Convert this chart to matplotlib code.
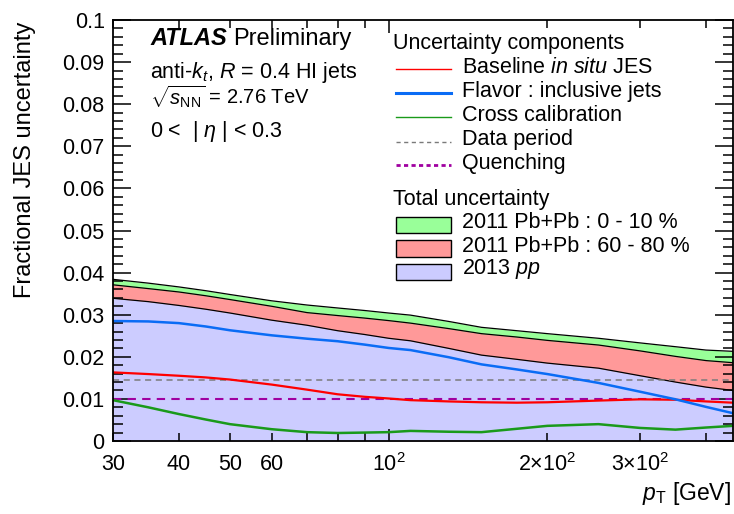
import matplotlib
matplotlib.use("Agg")
import matplotlib.pyplot as plt
from matplotlib.lines import Line2D
from matplotlib.patches import Rectangle
from matplotlib.ticker import FixedLocator, FuncFormatter, MultipleLocator

plt.rcParams['font.family'] = ['Liberation Sans', 'DejaVu Sans']
plt.rcParams['mathtext.fontset'] = 'custom'
plt.rcParams['mathtext.rm'] = 'Liberation Sans'
plt.rcParams['mathtext.it'] = 'Liberation Sans:italic'
plt.rcParams['mathtext.bf'] = 'Liberation Sans:bold'

# Jet pT points [GeV]
pt = [30, 35, 40, 45, 50, 60, 70, 80, 90, 100, 110, 130, 150, 175, 200, 250,
      300, 350, 400, 450]

# Total uncertainties
pbpb_0_10 = [0.0384, 0.0375, 0.0366, 0.0357, 0.0348, 0.0333, 0.0323, 0.0316,
             0.0310, 0.0304, 0.0299, 0.0284, 0.0270, 0.0262, 0.0255, 0.0244,
             0.0233, 0.0224, 0.0216, 0.0213]
pbpb_60_80 = [0.0371, 0.0362, 0.0354, 0.0345, 0.0336, 0.0320, 0.0305, 0.0298,
              0.0292, 0.0286, 0.0280, 0.0267, 0.0255, 0.0247, 0.0239, 0.0228,
              0.0214, 0.0201, 0.0191, 0.0186]
pp_2013 = [0.0339, 0.0331, 0.0322, 0.0313, 0.0304, 0.0287, 0.0275, 0.0262,
           0.0253, 0.0244, 0.0238, 0.0220, 0.0204, 0.0194, 0.0185, 0.0173,
           0.0155, 0.0140, 0.0128, 0.0120]

# Individual components
flavor = [0.0285, 0.0284, 0.0280, 0.0272, 0.0263, 0.0251, 0.0243, 0.0237,
          0.0229, 0.0221, 0.0216, 0.0199, 0.0182, 0.0170, 0.0159, 0.0138,
          0.0117, 0.0099, 0.0081, 0.0066]
baseline = [0.0163, 0.0159, 0.0155, 0.0151, 0.0146, 0.0134, 0.0122, 0.0111,
            0.0105, 0.0101, 0.0097, 0.0094, 0.0092, 0.0091, 0.0092, 0.0096,
            0.0099, 0.0098, 0.0094, 0.0091]
cross_calib = [0.0097, 0.0080, 0.0064, 0.0051, 0.0040, 0.0028, 0.0021, 0.0019,
               0.0020, 0.0021, 0.0024, 0.0022, 0.0021, 0.0029, 0.0036, 0.0040,
               0.0031, 0.0027, 0.0032, 0.0036]
data_period = 0.0145
quenching = 0.0100

x_min, x_max = 30, 450
y_min, y_max = 0.0, 0.1

x_tick_labels = {30: "30", 40: "40", 50: "50", 60: "60",
                 200: r"$2{\times}10^{2}$", 300: r"$3{\times}10^{2}$"}

c_green_fill = "#99ff99"
c_red_fill = "#ff9999"
c_blue_fill = "#ccccff"
c_red = "#ff0000"
c_blue = "#0a6cf5"
c_green = "#1a9a1a"
c_gray = "#7a7a7a"
c_mag = "#a000a0"

W, H = 734, 514
fig = plt.figure(figsize=(W / 100, H / 100), dpi=100)
ax = fig.add_axes([113 / W, 73 / H, 620 / W, 421 / H])
ax.set_xscale("log")
ax.set_xlim(x_min, x_max)
ax.set_ylim(y_min, y_max)

# Stacked total-uncertainty bands
ax.fill_between(pt, 0, pbpb_0_10, color=c_green_fill, lw=0, zorder=1)
ax.fill_between(pt, 0, pbpb_60_80, color=c_red_fill, lw=0, zorder=1.1)
ax.fill_between(pt, 0, pp_2013, color=c_blue_fill, lw=0, zorder=1.2)
for band in (pbpb_0_10, pbpb_60_80, pp_2013):
    ax.plot(pt, band, color="black", lw=0.9, zorder=2)

# Components
ax.axhline(data_period, color=c_gray, lw=1.1, ls=(0, (4, 3)), zorder=3)
ax.axhline(quenching, color=c_mag, lw=1.5, ls=(0, (4, 3)), zorder=3)
ax.plot(pt, baseline, color=c_red, lw=1.6, zorder=4)
ax.plot(pt, flavor, color=c_blue, lw=1.8, zorder=4)
ax.plot(pt, cross_calib, color=c_green, lw=1.8, zorder=4)

# Axes styling
for s in ax.spines.values():
    s.set_linewidth(1.3)
    s.set_zorder(10)


def y_label(v, pos):
    if abs(v) < 1e-9:
        return "0"
    if v > 0.099:
        return "0.1"
    return f"{v:.2f}"


ax.yaxis.set_major_locator(MultipleLocator(0.01))
ax.yaxis.set_minor_locator(MultipleLocator(0.002))
ax.yaxis.set_major_formatter(FuncFormatter(y_label))
ax.xaxis.set_major_locator(FixedLocator([100]))
ax.xaxis.set_major_formatter(FuncFormatter(lambda v, p: r"$10^{2}$"))
ax.xaxis.set_minor_locator(FixedLocator([30, 40, 50, 60, 70, 80, 90, 200, 300, 400]))
ax.xaxis.set_minor_formatter(FuncFormatter(lambda v, p: x_tick_labels.get(int(round(v)), "")))

ax.tick_params(which="both", direction="in", top=True, right=True, width=1.1,
               labelsize=15.5, colors="black", zorder=11)
ax.tick_params(axis="y", which="major", length=13, pad=6)
ax.tick_params(axis="y", which="minor", length=7)
ax.tick_params(axis="x", which="major", length=9, pad=9)
ax.tick_params(axis="x", which="minor", length=5.5, pad=9)

fig.text(25 / W, 1 - 22 / H, "Fractional JES uncertainty", rotation=90,
         ha="center", va="top", fontsize=17)
fig.text(731 / W, 1 - 500 / H, r"$p_{\mathrm{T}}$ [GeV]", ha="right",
         va="baseline", fontsize=16.5)


def px(x, y):
    return x / W, 1 - y / H


# Annotation block
t_size = 15.5
atlas = fig.text(*px(150, 45), "ATLAS", fontsize=17, fontweight="bold",
                 fontstyle="italic", va="baseline")
fig.canvas.draw()
bb = atlas.get_window_extent()
fig.text(bb.x1 / W + 6 / W, 1 - 45 / H, "Preliminary", fontsize=17, va="baseline")
fig.text(*px(150, 78), r"anti-$k_{t}$, $R$ = 0.4 HI jets", fontsize=t_size,
         va="baseline")
fig.text(*px(150, 104), r"$\sqrt{s_{\mathrm{NN}}}$ = 2.76 TeV", fontsize=14.5,
         va="baseline")
fig.text(*px(150, 137), r"0 <  | $\eta$ | < 0.3", fontsize=t_size,
         va="baseline")

# Legend: components
lx0, lx1, tx = 396, 451, 462
fig.text(*px(393, 49), "Uncertainty components", fontsize=t_size, va="baseline")
comp_rows = [
    (69, 73, dict(color=c_red, lw=1.0), r"Baseline $\mathit{in\ situ}$ JES"),
    (93, 97, dict(color=c_blue, lw=2.2), "Flavor : inclusive jets"),
    (117, 121, dict(color=c_green, lw=1.0), "Cross calibration"),
    (141.5, 145, dict(color=c_gray, lw=1.0, ls=(0, (3, 2.5))), "Data period"),
    (165, 169, dict(color=c_mag, lw=2.0, ls=(0, (1.5, 1.2))), "Quenching"),
]
for ly, ty, style, label in comp_rows:
    fig.add_artist(Line2D([lx0 / W, lx1 / W], [1 - ly / H, 1 - ly / H], **style))
    fig.text(*px(tx, ty), label, fontsize=t_size, va="baseline")

fig.text(*px(393, 205), "Total uncertainty", fontsize=t_size, va="baseline")
box_rows = [
    (217, c_green_fill, 228, "2011 Pb+Pb : 0 - 10 %"),
    (240, c_red_fill, 251.5, "2011 Pb+Pb : 60 - 80 %"),
    (263.5, c_blue_fill, 274, r"2013 $\mathit{pp}$"),
]
for by, col, ty, label in box_rows:
    fig.add_artist(Rectangle((lx0 / W, 1 - (by + 16.5) / H), (lx1 - lx0) / W, 16.5 / H,
                             facecolor=col, edgecolor="black", lw=1.0,
                             transform=fig.transFigure))
    fig.text(*px(tx, ty), label, fontsize=t_size, va="baseline")

fig.savefig("out.png", dpi=100)
